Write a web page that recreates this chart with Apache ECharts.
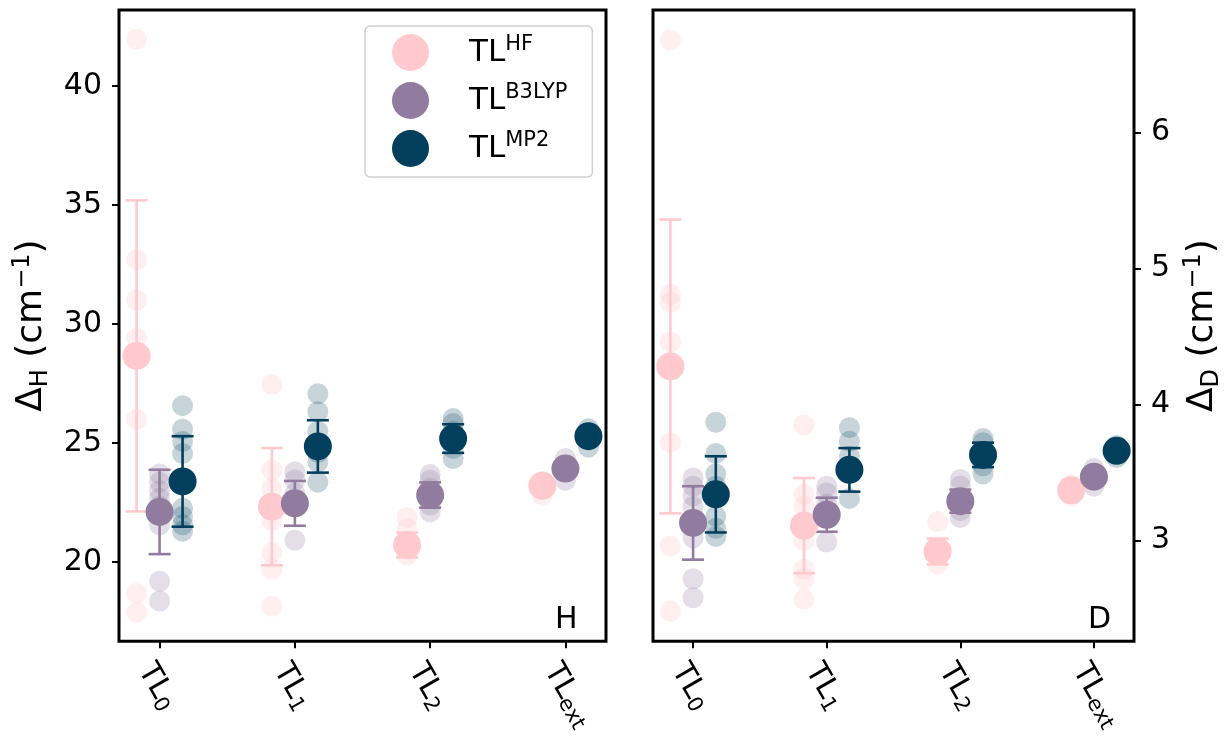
<!DOCTYPE html>
<html><head><meta charset="utf-8">
<script src="https://cdn.jsdelivr.net/npm/echarts@6/dist/echarts.min.js"></script>
<style>html,body{margin:0;padding:0;background:#fff}#c{width:1225px;height:736px}</style>
</head><body><div id="c"></div>
<script>
// ---- data ----
const categories = ['0', '1', '2', 'ext'];
const methods = ['HF', 'B3LYP', 'MP2'];
const yTicksH = [20, 25, 30, 35, 40];
const yTicksD = [3, 4, 5, 6];

// H panel (cm^-1)
const hfMeanH = [28.66, 22.33, 20.72, 23.21];
const hfErrH = [6.53, 2.46, 0.52, 0.2];
const b3MeanH = [22.11, 22.47, 22.82, 23.93];
const b3ErrH = [1.77, 0.94, 0.53, 0.2];
const mp2MeanH = [23.39, 24.86, 25.19, 25.29];
const mp2ErrH = [1.9, 1.1, 0.6, 0.2];
const hfPtsH = [[41.95, 32.7, 31.0, 29.4, 26.0, 18.7, 17.9], [27.46, 23.88, 23.1, 21.75, 20.4, 19.7, 18.15], [21.87, 21.42, 20.72, 20.3], [23.39, 23.21, 22.82]];
const b3PtsH = [[23.7, 23.36, 23.0, 22.68, 22.34, 21.57, 19.2, 18.37], [23.79, 23.45, 22.9, 22.5, 20.92], [23.68, 23.44, 23.1, 22.82, 22.4, 22.12], [24.35, 23.93, 23.44]];
const mp2PtsH = [[26.57, 25.58, 25.07, 24.56, 22.26, 21.92, 21.57, 21.3], [27.07, 26.32, 25.5, 25.0, 24.6, 24.2, 23.36], [26.03, 25.82, 25.5, 25.19, 24.77, 24.35], [25.6, 25.29, 24.83]];

// D panel (cm^-1)
const hfMeanD = [4.28, 3.11, 2.92, 3.37];
const hfErrD = [1.08, 0.35, 0.095, 0.03];
const b3MeanD = [3.13, 3.19, 3.29, 3.47];
const b3ErrD = [0.27, 0.125, 0.085, 0.03];
const mp2MeanD = [3.34, 3.52, 3.63, 3.66];
const mp2ErrD = [0.28, 0.16, 0.09, 0.03];
const hfPtsD = [[6.68, 4.81, 4.75, 4.46, 3.72, 2.96, 2.48], [3.85, 3.34, 3.25, 3.0, 2.79, 2.72, 2.57], [3.14, 2.92, 2.83], [3.41, 3.37, 3.33]];
const b3PtsD = [[3.46, 3.40, 3.33, 3.25, 3.02, 2.72, 2.58], [3.40, 3.35, 3.27, 2.99], [3.45, 3.40, 3.22, 3.17], [3.53, 3.47, 3.40]];
const mp2PtsD = [[3.87, 3.64, 3.49, 3.40, 3.18, 3.09, 3.03], [3.83, 3.73, 3.62, 3.5, 3.31], [3.75, 3.72, 3.55, 3.49], [3.70, 3.61]];

// ---- styling ----
const FONT = 'DejaVu Sans';
const colors = {HF: '#ffc9ce', B3LYP: '#917b9e', MP2: '#023f5c'};
const ptAlpha = {HF: 0.3, B3LYP: 0.25, MP2: 0.22};
const offsets = {HF: -0.17, B3LYP: 0, MP2: 0.17};

const panels = [
  {means: {HF: hfMeanH, B3LYP: b3MeanH, MP2: mp2MeanH}, errs: {HF: hfErrH, B3LYP: b3ErrH, MP2: mp2ErrH}, pts: {HF: hfPtsH, B3LYP: b3PtsH, MP2: mp2PtsH}},
  {means: {HF: hfMeanD, B3LYP: b3MeanD, MP2: mp2MeanD}, errs: {HF: hfErrD, B3LYP: b3ErrD, MP2: mp2ErrD}, pts: {HF: hfPtsD, B3LYP: b3PtsD, MP2: mp2PtsD}}
];

function makeErr(color) {
  return function (params, api) {
    const x = api.value(0), m = api.value(1), e = api.value(2);
    const top = api.coord([x, m + e]);
    const bot = api.coord([x, m - e]);
    const hw = 11;
    const style = {stroke: color, lineWidth: 2.6, fill: null};
    return {type: 'group', children: [
      {type: 'line', shape: {x1: top[0], y1: top[1], x2: bot[0], y2: bot[1]}, style: style},
      {type: 'line', shape: {x1: top[0] - hw, y1: top[1], x2: top[0] + hw, y2: top[1]}, style: style},
      {type: 'line', shape: {x1: bot[0] - hw, y1: bot[1], x2: bot[0] + hw, y2: bot[1]}, style: style}
    ]};
  };
}

const series = [];
panels.forEach(function (p, pi) {
  methods.forEach(function (m) {
    const pts = [];
    p.pts[m].forEach(function (arr, ci) { arr.forEach(function (v) { pts.push([ci + offsets[m], v]); }); });
    series.push({type: 'scatter', name: m + ' samples', xAxisIndex: pi, yAxisIndex: pi, data: pts,
      symbolSize: 21, itemStyle: {color: colors[m], opacity: ptAlpha[m]}, z: 2, silent: true});
  });
  methods.forEach(function (m) {
    series.push({type: 'custom', name: m + ' err', xAxisIndex: pi, yAxisIndex: pi,
      data: p.means[m].map(function (v, ci) { return [ci + offsets[m], v, p.errs[m][ci]]; }),
      encode: {x: 0, y: 1}, renderItem: makeErr(colors[m]), z: 3, silent: true});
  });
  methods.forEach(function (m) {
    series.push({type: 'scatter', name: m, xAxisIndex: pi, yAxisIndex: pi,
      data: p.means[m].map(function (v, ci) { return [ci + offsets[m], v]; }),
      symbolSize: 28, itemStyle: {color: colors[m], opacity: 1}, z: 4, silent: true});
  });
});

const xLabelRich = {
  a: {fontSize: 30, fontFamily: FONT, color: '#000', lineHeight: 34},
  s: {fontSize: 21, fontFamily: FONT, color: '#000', lineHeight: 22, verticalAlign: 'bottom'}
};
function xAxisCfg(gi) {
  return {
    type: 'value', gridIndex: gi, min: -0.3, max: 3.3,
    splitLine: {show: false}, axisLine: {show: false, onZero: false},
    axisTick: {show: true, customValues: [0, 1, 2, 3], length: 7, lineStyle: {color: '#000', width: 2}},
    axisLabel: {customValues: [0, 1, 2, 3], rotate: -60, margin: 16, align: 'left', verticalAlign: 'top',
      formatter: function (v) { return '{a|TL}{s|' + categories[Math.round(v)] + '}'; }, rich: xLabelRich}
  };
}
const nameRich = {
  a: {fontSize: 36, fontFamily: FONT, color: '#000', lineHeight: 42},
  b: {fontSize: 24, fontFamily: FONT, color: '#000', lineHeight: 26, verticalAlign: 'bottom'},
  c: {fontSize: 24, fontFamily: FONT, color: '#000', lineHeight: 26, verticalAlign: 'top'}
};
function yAxisCfg(gi, pos, min, max, ticks, sub, gap) {
  return {
    type: 'value', gridIndex: gi, position: pos, min: min, max: max,
    splitLine: {show: false}, axisLine: {show: false, onZero: false},
    axisTick: {show: true, customValues: ticks, length: 7, lineStyle: {color: '#000', width: 2}},
    axisLabel: {customValues: ticks, fontSize: 30, fontFamily: FONT, color: '#000', margin: 17},
    name: '{a|Δ}{b|' + sub + '}{a| (cm}{c|−1}{a|)}', nameLocation: 'middle', nameRotate: 90, nameGap: gap,
    nameTextStyle: {rich: nameRich}
  };
}

const option = {
  animation: false,
  backgroundColor: '#fff',
  grid: [
    {left: 119, top: 10, width: 487, height: 634, show: true, borderColor: '#000', borderWidth: 3, backgroundColor: 'transparent'},
    {left: 653, top: 10, width: 487, height: 634, show: true, borderColor: '#000', borderWidth: 3, backgroundColor: 'transparent'}
  ],
  xAxis: [xAxisCfg(0), xAxisCfg(1)],
  yAxis: [
    yAxisCfg(0, 'left', 16.68, 43.18, yTicksH, 'H', 66),
    yAxisCfg(1, 'right', 2.26, 6.90, yTicksD, 'D', 48)
  ],
  legend: {
    data: methods, left: 365, top: 26, orient: 'vertical', icon: 'circle',
    itemWidth: 37, itemHeight: 37, itemGap: 11, selectedMode: false,
    padding: [8, 25, 10, 27], borderColor: '#d0d0d0', borderWidth: 1.5, borderRadius: 5,
    backgroundColor: 'rgba(255,255,255,0.8)',
    formatter: function (n) { return '{g| }{a|TL}{s|' + n + '}'; },
    textStyle: {rich: {
      g: {width: 35, fontSize: 31, lineHeight: 37},
      a: {fontSize: 31, fontFamily: FONT, color: '#000', lineHeight: 37},
      s: {fontSize: 21, fontFamily: FONT, color: '#000', lineHeight: 24, verticalAlign: 'top'}
    }}
  },
  graphic: [
    {type: 'text', left: 555, top: 605, style: {text: 'H', font: '30px "DejaVu Sans"', fill: '#000'}, z: 10},
    {type: 'text', left: 1088, top: 605, style: {text: 'D', font: '30px "DejaVu Sans"', fill: '#000'}, z: 10}
  ],
  series: series
};
const chart = echarts.init(document.getElementById('c'), null, {renderer: 'canvas'});
chart.setOption(option);
</script>
</body></html>
